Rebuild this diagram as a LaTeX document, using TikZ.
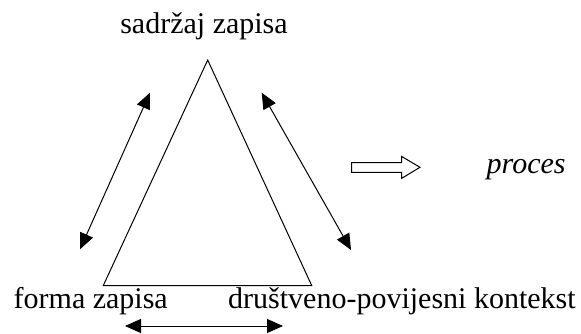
\documentclass[tikz,border=0pt]{standalone}
\usepackage{fontspec}
\setmainfont{Liberation Serif}
\usetikzlibrary{arrows.meta}
\begin{document}
\begin{tikzpicture}[x=1pt,y=-1pt,
  lbl/.style={inner sep=0pt,font=\fontsize{30}{36}\selectfont},
  line/.style={line width=1pt},
  dblarrow/.style={line width=1pt,{Triangle[length=16pt,width=14pt]}-{Triangle[length=16pt,width=14pt]}}]
\useasboundingbox (0,0) rectangle (581,333);
% texts
\node[lbl,anchor=base] (top) at (204,33) {sadržaj zapisa};
\node[lbl,anchor=base west] (left) at (13.5,308) {forma zapisa};
\node[lbl,anchor=base west] (right) at (228,308) {društveno-povijesni kontekst};
\node[lbl,anchor=base west,font=\fontsize{30}{36}\selectfont\itshape] (proc) at (486.5,173) {proces};
% triangle
\coordinate (A) at (207.7,60);
\coordinate (B) at (103.3,285.5);
\coordinate (C) at (311.7,285.5);
\draw[line,line join=miter] (A) -- (B) -- (C) -- cycle;
% double arrows
\coordinate (l1) at (150,92.7);
\coordinate (l2) at (80,249.3);
\coordinate (r1) at (261.7,92.7);
\coordinate (r2) at (351,250);
\coordinate (b1) at (125,326);
\coordinate (b2) at (283,326);
\draw[dblarrow] (l1) -- (l2);
\draw[dblarrow] (r1) -- (r2);
\draw[dblarrow] (b1) -- (b2);
% hollow arrow
\draw[line,line join=miter] (351.7,162.5) -- (401.7,162.5) -- (401.7,156.5) -- (420,167.3)
  -- (401.7,178.3) -- (401.7,172.3) -- (351.7,172.3) -- cycle;
\end{tikzpicture}
\end{document}
